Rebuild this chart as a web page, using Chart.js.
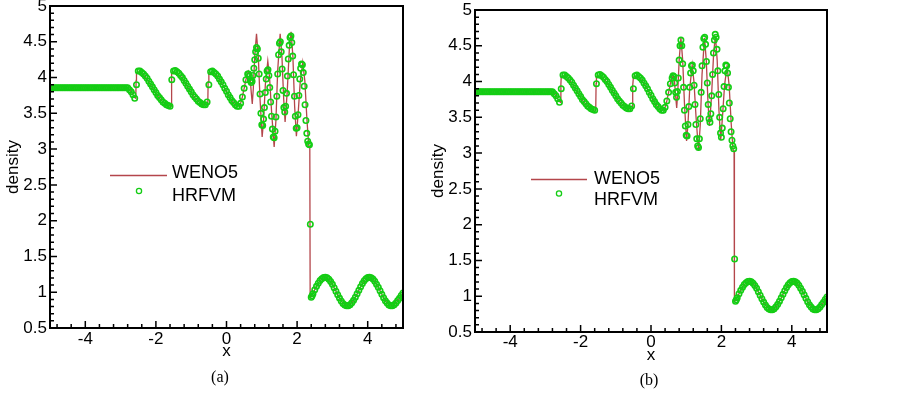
<!DOCTYPE html>
<html>
<head>
<meta charset="utf-8">
<script src="https://cdn.jsdelivr.net/npm/chart.js@4.4.0/dist/chart.umd.min.js"></script>
<style>
  body { margin: 0; background: #fff; width: 903px; height: 393px; overflow: hidden; position: relative; }
  canvas { position: absolute; }
  #chartA { left: 0; top: -10px; }
  #chartB { left: 425px; top: -10px; }
  .cap { position: absolute; font-family: "Liberation Serif", serif; font-size: 16px; color: #000; transform: translate(-50%, -50%); }
</style>
</head>
<body>
<canvas id="chartA" width="420" height="403"></canvas>
<canvas id="chartB" width="478" height="403"></canvas>
<div class="cap" style="left:220px; top:377px">(a)</div>
<div class="cap" style="left:649px; top:380px">(b)</div>
<script>
// axis ticks
const xTickValues = [-4, -2, 0, 2, 4];
const xTickLabels = ["-4", "-2", "0", "2", "4"];
const xMinorTicks = [-4.8, -4.4, -3.6, -3.2, -2.8, -2.4, -1.6, -1.2, -0.8, -0.4,
                     0.4, 0.8, 1.2, 1.6, 2.4, 2.8, 3.2, 3.6, 4.4, 4.8];
const yTickValues = [0.5, 1, 1.5, 2, 2.5, 3, 3.5, 4, 4.5, 5];
const yTickLabels = ["0.5", "1", "1.5", "2", "2.5", "3", "3.5", "4", "4.5", "5"];
const yMinorTicks = [0.6, 0.7, 0.8, 0.9, 1.1, 1.2, 1.3, 1.4, 1.6, 1.7, 1.8, 1.9,
                     2.1, 2.2, 2.3, 2.4, 2.6, 2.7, 2.8, 2.9, 3.1, 3.2, 3.3, 3.4,
                     3.6, 3.7, 3.8, 3.9, 4.1, 4.2, 4.3, 4.4, 4.6, 4.7, 4.8, 4.9];

// WENO5 reference line (same in both panels)
const wenoX = [
  -5.00, -2.80, -2.75, -2.70, -2.65, -2.60, -2.57, -2.56, -2.55,
  -2.50, -2.40, -2.30, -2.20, -2.10, -2.00, -1.90, -1.80, -1.70, -1.60, -1.57, -1.56, -1.55,
  -1.50, -1.40, -1.30, -1.20, -1.10, -1.00, -0.90, -0.80, -0.70, -0.60, -0.53, -0.52, -0.50,
  -0.45, -0.40, -0.30, -0.20, -0.10, 0.00, 0.10, 0.20, 0.30, 0.35, 0.40, 0.45, 0.50, 0.55, 0.60, 0.62,
  0.66, 0.70, 0.73, 0.76, 0.80, 0.85, 0.90, 0.95, 1.01, 1.05,
  1.10, 1.17, 1.22, 1.28, 1.35, 1.40, 1.45, 1.52, 1.57, 1.62,
  1.66, 1.72, 1.78, 1.83, 1.88, 1.93, 1.98, 2.03, 2.09, 2.16,
  2.22, 2.28, 2.33, 2.36, 2.37,
  2.40, 2.45, 2.50, 2.60, 2.70, 2.80, 2.90, 3.00, 3.10, 3.20,
  3.30, 3.40, 3.50, 3.60, 3.70, 3.80, 3.90, 4.00, 4.10, 4.20,
  4.30, 4.40, 4.50, 4.60, 4.70, 4.80, 4.90, 5.00
];
const wenoRho = [
  3.857, 3.857, 3.835, 3.80, 3.76, 3.72, 3.71, 3.96, 4.07,
  4.08, 4.06, 4.01, 3.94, 3.86, 3.78, 3.71, 3.66, 3.62, 3.60, 3.60, 3.97, 4.07,
  4.08, 4.06, 4.02, 3.95, 3.87, 3.79, 3.72, 3.67, 3.63, 3.62, 3.63, 3.94, 4.06,
  4.07, 4.08, 4.04, 3.97, 3.89, 3.80, 3.71, 3.64, 3.60, 3.60, 3.64, 3.73, 3.85, 3.97, 4.06, 4.09,
  4.05, 3.80, 3.63, 3.85, 4.30, 4.61, 4.30, 3.70, 3.17, 3.40,
  3.90, 4.23, 4.00, 3.50, 3.03, 3.40, 4.10, 4.61, 4.30, 3.70,
  3.38, 3.80, 4.40, 4.64, 4.30, 3.60, 3.18, 3.50, 3.95, 4.21,
  3.95, 3.40, 3.05, 3.03, 0.93,
  0.936, 0.984, 1.034, 1.126, 1.19, 1.21, 1.181, 1.11, 1.014, 0.918,
  0.844, 0.811, 0.826, 0.887, 0.977, 1.077, 1.159, 1.205, 1.203, 1.152,
  1.07, 0.971, 0.881, 0.823, 0.812, 0.849, 0.915, 0.99
];

// HRFVM cell centres: left part, oscillating part, right part
const xLeft = [
  -5.00, -4.95, -4.90, -4.85, -4.80, -4.75, -4.70, -4.65, -4.60, -4.55,
  -4.50, -4.45, -4.40, -4.35, -4.30, -4.25, -4.20, -4.15, -4.10, -4.05,
  -4.00, -3.95, -3.90, -3.85, -3.80, -3.75, -3.70, -3.65, -3.60, -3.55,
  -3.50, -3.45, -3.40, -3.35, -3.30, -3.25, -3.20, -3.15, -3.10, -3.05,
  -3.00, -2.95, -2.90, -2.85, -2.80, -2.75, -2.70, -2.65, -2.60, -2.55,
  -2.50, -2.45, -2.40, -2.35, -2.30, -2.25, -2.20, -2.15, -2.10, -2.05,
  -2.00, -1.95, -1.90, -1.85, -1.80, -1.75, -1.70, -1.65, -1.60, -1.55,
  -1.50, -1.45, -1.40, -1.35, -1.30, -1.25, -1.20, -1.15, -1.10, -1.05,
  -1.00, -0.95, -0.90, -0.85, -0.80, -0.75, -0.70, -0.65, -0.60, -0.55,
  -0.50, -0.45, -0.40, -0.35, -0.30, -0.25, -0.20, -0.15, -0.10, -0.05,
  0.00, 0.05, 0.10, 0.15, 0.20, 0.25, 0.30, 0.35, 0.40, 0.45,
  0.50, 0.55, 0.60
];
const rhoLeft = [
  3.857, 3.857, 3.857, 3.857, 3.857, 3.857, 3.857, 3.857, 3.857, 3.857,
  3.857, 3.857, 3.857, 3.857, 3.857, 3.857, 3.857, 3.857, 3.857, 3.857,
  3.857, 3.857, 3.857, 3.857, 3.857, 3.857, 3.857, 3.857, 3.857, 3.857,
  3.857, 3.857, 3.857, 3.857, 3.857, 3.857, 3.857, 3.857, 3.857, 3.857,
  3.857, 3.857, 3.857, 3.857, 3.857, 3.83, 3.80, 3.76, 3.71, 3.90,
  4.09, 4.09, 4.07, 4.05, 4.02, 3.99, 3.95, 3.91, 3.87, 3.83,
  3.79, 3.75, 3.72, 3.69, 3.66, 3.64, 3.62, 3.61, 3.60, 3.97,
  4.09, 4.10, 4.08, 4.06, 4.03, 4.00, 3.96, 3.92, 3.88, 3.84,
  3.80, 3.76, 3.73, 3.70, 3.67, 3.65, 3.63, 3.62, 3.62, 3.66,
  3.90, 4.08, 4.09, 4.07, 4.05, 4.02, 3.98, 3.94, 3.90, 3.85,
  3.81, 3.76, 3.72, 3.68, 3.65, 3.62, 3.60, 3.60, 3.64, 3.73,
  3.85, 3.97, 4.05
];
const xOsc = [
  0.625, 0.650, 0.675, 0.700, 0.725, 0.750, 0.775, 0.800, 0.825, 0.850,
  0.875, 0.900, 0.925, 0.950, 0.975, 1.000, 1.025, 1.050, 1.075, 1.100,
  1.125, 1.150, 1.175, 1.200, 1.225, 1.250, 1.275, 1.300, 1.325, 1.350,
  1.375, 1.400, 1.425, 1.450, 1.475, 1.500, 1.525, 1.550, 1.575, 1.600,
  1.625, 1.650, 1.675, 1.700, 1.725, 1.750, 1.775, 1.800, 1.825, 1.850,
  1.875, 1.900, 1.925, 1.950, 1.975, 2.000, 2.025, 2.050, 2.075, 2.100,
  2.125, 2.150, 2.175, 2.200, 2.225, 2.250, 2.275, 2.300, 2.325, 2.350,
  2.375, 2.400, 2.425, 2.450
];
const rhoOscA = [
  4.05, 4.02, 3.96, 3.93, 3.95, 4.03, 4.13, 4.25, 4.36, 4.42,
  4.40, 4.27, 4.05, 3.77, 3.50, 3.34, 3.33, 3.42, 3.58, 3.79,
  3.98, 4.09, 4.11, 4.03, 3.86, 3.66, 3.46, 3.28, 3.17, 3.16,
  3.25, 3.45, 3.74, 4.05, 4.32, 4.48, 4.50, 4.36, 4.12, 3.82,
  3.58, 3.52, 3.60, 3.78, 4.02, 4.26, 4.45, 4.56, 4.58, 4.49,
  4.30, 4.04, 3.74, 3.46, 3.29, 3.30, 3.48, 3.75, 3.98, 4.13,
  4.19, 4.18, 4.07, 3.88, 3.62, 3.40, 3.22, 3.11, 3.07, 3.06,
  1.95, 0.93, 0.95, 0.98
];
const rhoOscB = [
  4.08, 4.07, 3.98, 3.85, 3.78, 3.86, 4.05, 4.30, 4.50, 4.58,
  4.50, 4.25, 3.92, 3.60, 3.38, 3.25, 3.24, 3.40, 3.65, 3.92,
  4.12, 4.22, 4.23, 4.15, 3.95, 3.68, 3.40, 3.20, 3.10, 3.08,
  3.20, 3.48, 3.85, 4.22, 4.48, 4.60, 4.62, 4.52, 4.28, 3.98,
  3.68, 3.48, 3.43, 3.55, 3.80, 4.10, 4.40, 4.58, 4.66, 4.62,
  4.45, 4.15, 3.82, 3.50, 3.28, 3.22, 3.35, 3.62, 3.93, 4.15,
  4.23, 4.22, 4.12, 3.92, 3.70, 3.48, 3.30, 3.18, 3.10, 3.06,
  1.52, 0.93, 0.95, 0.98
];
const xRight = [
  2.50, 2.55, 2.60, 2.65, 2.70, 2.75, 2.80, 2.85, 2.90, 2.95,
  3.00, 3.05, 3.10, 3.15, 3.20, 3.25, 3.30, 3.35, 3.40, 3.45,
  3.50, 3.55, 3.60, 3.65, 3.70, 3.75, 3.80, 3.85, 3.90, 3.95,
  4.00, 4.05, 4.10, 4.15, 4.20, 4.25, 4.30, 4.35, 4.40, 4.45,
  4.50, 4.55, 4.60, 4.65, 4.70, 4.75, 4.80, 4.85, 4.90, 4.95,
  5.00
];
const rhoRight = [
  1.034, 1.082, 1.126, 1.163, 1.190, 1.206, 1.210, 1.201, 1.181, 1.149,
  1.110, 1.063, 1.014, 0.965, 0.918, 0.877, 0.844, 0.822, 0.811, 0.812,
  0.826, 0.852, 0.887, 0.930, 0.977, 1.027, 1.077, 1.121, 1.159, 1.187,
  1.205, 1.210, 1.203, 1.184, 1.152, 1.113, 1.070, 1.021, 0.971, 0.924,
  0.881, 0.848, 0.823, 0.811, 0.812, 0.824, 0.849, 0.884, 0.915, 0.955,
  0.990
];

const hrfvmX = xLeft.concat(xOsc, xRight);
const hrfvmA = rhoLeft.concat(rhoOscA, rhoRight);
const hrfvmB = rhoLeft.concat(rhoOscB, rhoRight);

const RED = "#b4464b";
const GREEN = "rgb(20,205,20)";
const SANS = "'Liberation Sans', Arial, sans-serif";

// box frame with inward ticks, tecplot style
const frameTicks = {
  id: "frameTicks",
  afterDatasetsDraw(chart) {
    const { ctx, chartArea: a, scales: { x, y } } = chart;
    ctx.save();
    ctx.strokeStyle = "#000";
    ctx.lineWidth = 1.5;
    ctx.beginPath();
    xTickValues.forEach(v => { const p = x.getPixelForValue(v); ctx.moveTo(p, a.bottom); ctx.lineTo(p, a.bottom - 7); });
    xMinorTicks.forEach(v => { const p = x.getPixelForValue(v); ctx.moveTo(p, a.bottom); ctx.lineTo(p, a.bottom - 4); });
    yTickValues.forEach(v => { const p = y.getPixelForValue(v); ctx.moveTo(a.left, p); ctx.lineTo(a.left + 7, p); });
    yMinorTicks.forEach(v => { const p = y.getPixelForValue(v); ctx.moveTo(a.left, p); ctx.lineTo(a.left + 4, p); });
    ctx.stroke();
    ctx.lineWidth = 2;
    ctx.strokeRect(a.left, a.top, a.right - a.left, a.bottom - a.top);
    ctx.restore();
  }
};

// legend drawn inside the plot
const keyBox = {
  id: "keyBox",
  afterDraw(chart, args, k) {
    const ctx = chart.ctx;
    ctx.save();
    ctx.strokeStyle = RED;
    ctx.lineWidth = 1.5;
    ctx.beginPath();
    ctx.moveTo(k.x0, k.lineY);
    ctx.lineTo(k.x1, k.lineY);
    ctx.stroke();
    ctx.strokeStyle = GREEN;
    ctx.lineWidth = 1.3;
    ctx.beginPath();
    ctx.arc(k.cx, k.cy, 2.6, 0, Math.PI * 2);
    ctx.stroke();
    ctx.fillStyle = "#000";
    ctx.font = "18px " + SANS;
    ctx.textBaseline = "middle";
    ctx.textAlign = "left";
    ctx.fillText("WENO5", k.tx, k.ty1);
    ctx.fillText("HRFVM", k.tx, k.ty2);
    ctx.restore();
  }
};

function buildChart(id, hrfvmRho, opt) {
  return new Chart(document.getElementById(id), {
    type: "scatter",
    data: {
      datasets: [
        {
          label: "WENO5",
          data: wenoX.map((x, i) => ({ x: x, y: wenoRho[i] })),
          showLine: true,
          borderColor: RED,
          borderWidth: 1.3,
          pointRadius: 0,
          order: 2
        },
        {
          label: "HRFVM",
          data: hrfvmX.map((x, i) => ({ x: x, y: hrfvmRho[i] })),
          showLine: false,
          pointRadius: 2.7,
          pointBorderWidth: 1.6,
          borderColor: GREEN,
          backgroundColor: "rgba(0,0,0,0)",
          order: 1
        }
      ]
    },
    options: {
      responsive: false,
      animation: false,
      events: [],
      layout: { padding: { top: opt.top, right: opt.right, left: 0, bottom: 0 } },
      plugins: { legend: { display: false }, tooltip: { enabled: false }, keyBox: opt.key },
      scales: {
        x: {
          type: "linear", min: -5, max: 5,
          afterBuildTicks: s => { s.ticks = xTickValues.map(v => ({ value: v })); },
          afterFit: s => { s.height = opt.xAxisHeight; },
          grid: { display: false, drawTicks: false },
          border: { display: false },
          ticks: {
            autoSkip: false, maxRotation: 0, padding: opt.xTickPad, color: "#000",
            font: { family: SANS, size: 17 },
            callback: v => xTickLabels[xTickValues.indexOf(v)]
          },
          title: { display: true, text: "x", color: "#000", font: { family: SANS, size: 17 },
                   padding: { top: 0, bottom: opt.xTitlePad } }
        },
        y: {
          type: "linear", min: 0.5, max: 5,
          afterBuildTicks: s => { s.ticks = yTickValues.map(v => ({ value: v })); },
          afterFit: s => { s.width = 50; },
          grid: { display: false, drawTicks: false },
          border: { display: false },
          ticks: {
            autoSkip: false, padding: 3, color: "#000",
            font: { family: SANS, size: 17 },
            callback: v => yTickLabels[yTickValues.indexOf(v)]
          },
          title: { display: true, text: "density", color: "#000", font: { family: SANS, size: 17 },
                   padding: { top: opt.yTitlePad, bottom: 0 } }
        }
      }
    },
    plugins: [frameTicks, keyBox]
  });
}

buildChart("chartA", hrfvmA, {
  top: 16, right: 17, xAxisHeight: 65, xTickPad: 1, xTitlePad: 31, yTitlePad: 3,
  key: { x0: 110, x1: 167, lineY: 185.5, cx: 139, cy: 201, tx: 172, ty1: 183.5, ty2: 206 }
});
buildChart("chartB", hrfvmB, {
  top: 20, right: 76, xAxisHeight: 61, xTickPad: 0, xTitlePad: 27, yTitlePad: 3,
  key: { x0: 106, x1: 162, lineY: 189.5, cx: 134, cy: 203.5, tx: 169, ty1: 189, ty2: 210 }
});
</script>
</body>
</html>
